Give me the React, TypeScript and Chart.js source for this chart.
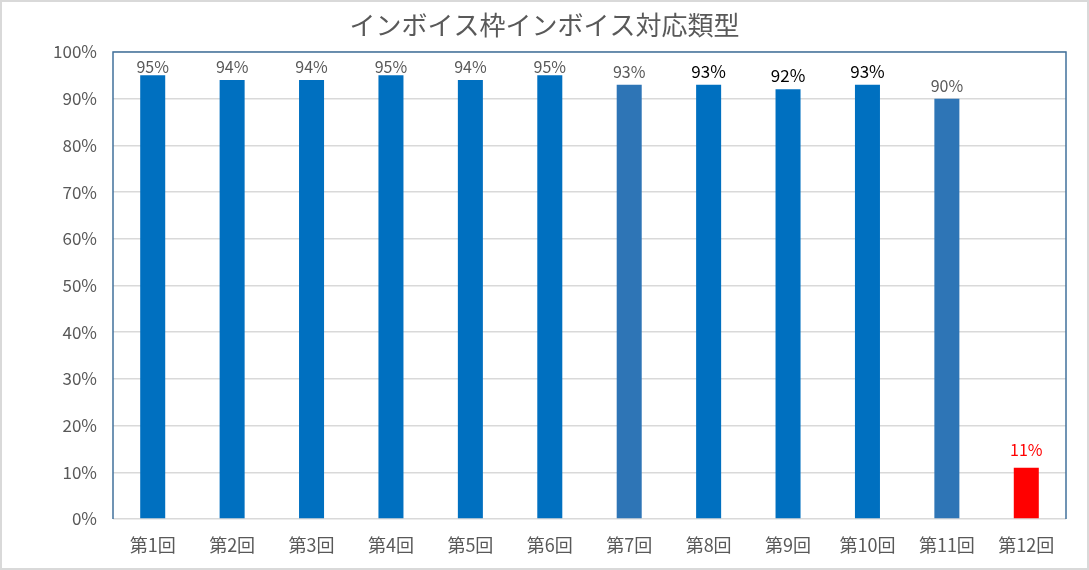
import React, { useEffect, useRef } from "react";
import { Chart, registerables } from "chart.js";

Chart.register(...registerables);

const TITLE = "インボイス枠インボイス対応類型";
const categories = ["第1回", "第2回", "第3回", "第4回", "第5回", "第6回", "第7回", "第8回", "第9回", "第10回", "第11回", "第12回"];
const values = [95, 94, 94, 95, 94, 95, 93, 93, 92, 93, 90, 11];
const barColors = ["#0070C0", "#0070C0", "#0070C0", "#0070C0", "#0070C0", "#0070C0", "#2E75B6", "#0070C0", "#0070C0", "#0070C0", "#2E75B6", "#FF0000"];
const labelColors = ["#595959", "#595959", "#595959", "#595959", "#595959", "#595959", "#595959", "#000000", "#000000", "#000000", "#595959", "#FF0000"];
const labelSizes = [16, 16, 16, 16, 16, 16, 16, 17, 17, 17, 16, 16];
const yTicks = [0, 10, 20, 30, 40, 50, 60, 70, 80, 90, 100];

const FONT = "'Noto Sans CJK JP', 'Noto Sans', sans-serif";

const decorPlugin = {
  id: "decor",
  beforeDraw(chart: any) {
    const ctx = chart.ctx;
    ctx.save();
    ctx.fillStyle = "#FFFFFF";
    ctx.fillRect(0, 0, chart.width, chart.height);
    ctx.restore();
  },
  afterDraw(chart: any) {
    const ctx = chart.ctx;
    const a = chart.chartArea;
    ctx.save();
    // outer border
    ctx.strokeStyle = "#D9D9D9";
    ctx.lineWidth = 2;
    ctx.strokeRect(1, 1, chart.width - 2, chart.height - 2);
    // plot border (left, top, right)
    ctx.strokeStyle = "#41719C";
    ctx.lineWidth = 1.5;
    ctx.beginPath();
    ctx.moveTo(a.left, a.bottom);
    ctx.lineTo(a.left, a.top);
    ctx.lineTo(a.right, a.top);
    ctx.lineTo(a.right, a.bottom);
    ctx.stroke();
    // title
    ctx.fillStyle = "#595959";
    ctx.font = `26px ${FONT}`;
    ctx.textAlign = "center";
    ctx.textBaseline = "middle";
    ctx.fillText(TITLE, chart.width / 2, 25);
    // data labels
    const meta = chart.getDatasetMeta(0);
    meta.data.forEach((bar: any, i: number) => {
      ctx.fillStyle = labelColors[i];
      ctx.font = `${labelSizes[i]}px ${FONT}`;
      ctx.textAlign = "center";
      ctx.textBaseline = "alphabetic";
      const gap = values[i] < 50 ? 12 : 7;
      const y = Math.max(bar.y - gap, a.top + 21);
      ctx.fillText(values[i] + "%", bar.x, y);
    });
    ctx.restore();
  },
};

export default function App() {
  const ref = useRef<HTMLCanvasElement>(null);
  useEffect(() => {
    document.body.style.margin = "0";
    const chart = new Chart(ref.current!, {
      type: "bar",
      data: {
        labels: categories,
        datasets: [
          {
            data: values,
            backgroundColor: barColors,
            categoryPercentage: 1,
            barPercentage: 0.315,
          },
        ],
      },
      options: {
        animation: false,
        responsive: false,
        layout: { padding: { top: 52, right: 23, left: 0, bottom: 0 } },
        plugins: { legend: { display: false }, tooltip: { enabled: false }, title: { display: false } },
        scales: {
          x: {
            grid: { display: false, drawTicks: false },
            border: { display: false },
            ticks: { color: "#595959", font: { family: FONT, size: 18 }, padding: 15 },
            afterFit(scale: any) {
              scale.height = 51;
            },
          },
          y: {
            min: 0,
            max: 100,
            afterBuildTicks(scale: any) {
              scale.ticks = yTicks.map((v) => ({ value: v }));
            },
            grid: { color: "#D9D9D9", lineWidth: 1.5, drawTicks: false },
            border: { display: false },
            ticks: {
              color: "#595959",
              font: { family: FONT, size: 17 },
              padding: 16,
              callback: (v: any) => v + "%",
            },
            afterFit(scale: any) {
              scale.width = 113;
            },
          },
        },
      },
      plugins: [decorPlugin],
    });
    return () => chart.destroy();
  }, []);
  return <canvas ref={ref} width={1089} height={570} style={{ display: "block" }} />;
}
